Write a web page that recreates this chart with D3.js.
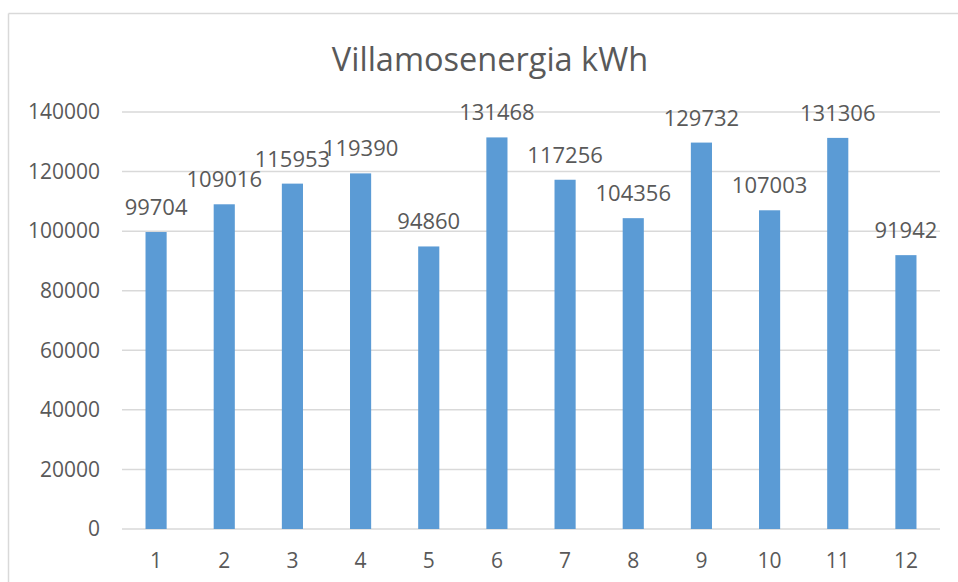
<!DOCTYPE html>
<html>
<head>
<meta charset="utf-8">
<script src="https://cdn.jsdelivr.net/npm/d3@7"></script>
<style>
  body { margin: 0; background: #fff; }
  text { font-family: "Open Sans", sans-serif; fill: #595959; }
</style>
</head>
<body>
<svg id="chart" width="958" height="582"></svg>
<script>
// monthly values
const months = ['1', '2', '3', '4', '5', '6', '7', '8', '9', '10', '11', '12'];
const values = [99704, 109016, 115953, 119390, 94860, 131468, 117256, 104356, 129732, 107003, 131306, 91942];
const yTicks = [0, 20000, 40000, 60000, 80000, 100000, 120000, 140000];
const title = 'Villamosenergia kWh';

const margin = {top: 112, right: 18, bottom: 53, left: 122};
const width = 958, height = 582;

const svg = d3.select('#chart');

// chart area frame (only top and left edges are visible in the crop)
svg.append('line').attr('x1', 8.5).attr('x2', width).attr('y1', 13.5).attr('y2', 13.5)
  .attr('stroke', '#d9d9d9').attr('stroke-width', 1.5);
svg.append('line').attr('x1', 8.5).attr('x2', 8.5).attr('y1', 13.5).attr('y2', height)
  .attr('stroke', '#d9d9d9').attr('stroke-width', 1.5);

const x = d3.scaleBand()
  .domain(months)
  .range([margin.left, width - margin.right])
  .paddingInner(0.69)
  .paddingOuter(0.345);

const y = d3.scaleLinear()
  .domain([0, 140000])
  .range([height - margin.bottom, margin.top]);

// gridlines
svg.append('g')
  .selectAll('line')
  .data(yTicks)
  .enter().append('line')
  .attr('x1', margin.left)
  .attr('x2', width - margin.right)
  .attr('y1', d => y(d))
  .attr('y2', d => y(d))
  .attr('stroke', '#d9d9d9')
  .attr('stroke-width', 1.5);

// y axis labels
const yAxis = svg.append('g')
  .attr('transform', 'translate(' + (margin.left - 22) + ',0)')
  .call(d3.axisLeft(y).tickValues(yTicks).tickSize(0).tickPadding(0).tickFormat(d3.format('d')));
yAxis.select('.domain').remove();
yAxis.selectAll('text')
  .attr('font-size', 21)
  .attr('font-family', null)
  .style('fill', '#595959');

// x axis labels
const xAxis = svg.append('g')
  .attr('transform', 'translate(0,' + (height - margin.bottom) + ')')
  .call(d3.axisBottom(x).tickSize(0).tickPadding(0));
xAxis.select('.domain').remove();
xAxis.selectAll('text')
  .attr('dy', null)
  .attr('y', 39)
  .attr('font-size', 21)
  .attr('font-family', null)
  .style('fill', '#595959');

// bars
svg.append('g')
  .selectAll('rect')
  .data(values)
  .enter().append('rect')
  .attr('x', (d, i) => x(months[i]))
  .attr('y', d => y(d))
  .attr('width', x.bandwidth())
  .attr('height', d => y(0) - y(d))
  .attr('fill', '#5b9bd5');

// value labels
svg.append('g')
  .selectAll('text')
  .data(values)
  .enter().append('text')
  .attr('x', (d, i) => x(months[i]) + x.bandwidth() / 2)
  .attr('y', d => y(d) - 17)
  .attr('text-anchor', 'middle')
  .attr('font-size', 22)
  .text(d => d);

// title
svg.append('text')
  .attr('x', 490)
  .attr('y', 71)
  .attr('text-anchor', 'middle')
  .attr('font-size', 32.5)
  .text(title);
</script>
</body>
</html>
